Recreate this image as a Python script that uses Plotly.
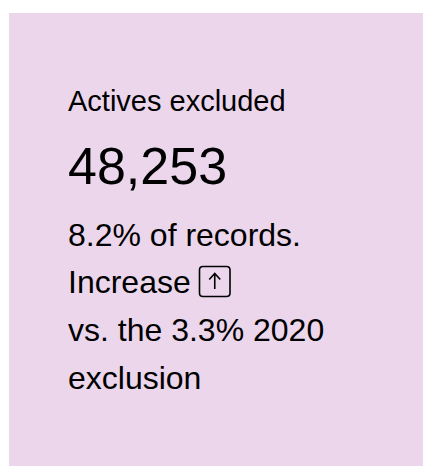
import plotly.graph_objects as go

# ---- data ----
kpi_label = "Actives excluded"
kpi_value = 48253
detail_lines = ["8.2% of records.", "Increase", "vs. the 3.3% 2020", "exclusion"]
trend_direction = "up"

W, H = 423, 466
FONT = "Liberation Sans, Arial, sans-serif"
CARD = "#ECD6EC"
INK = "#000000"

fig = go.Figure()
fig.update_layout(
    width=W, height=H,
    margin=dict(l=0, r=0, t=0, b=0),
    paper_bgcolor="white", plot_bgcolor="white",
    xaxis=dict(range=[0, W], visible=False, fixedrange=True),
    yaxis=dict(range=[H, 0], visible=False, fixedrange=True),
    showlegend=False,
)

# card background
fig.add_shape(type="rect", xref="x", yref="y", x0=9, x1=W + 2, y0=13, y1=H + 2,
              fillcolor=CARD, line=dict(width=0), layer="below")

def txt(t, y, size):
    fig.add_annotation(x=66, y=y, xref="x", yref="y", text=t, showarrow=False,
                       xanchor="left", yanchor="middle",
                       font=dict(family=FONT, size=size, color=INK))

# label, baseline ~111
txt(kpi_label, 101, 29)
# value, baseline ~184
txt(f"{kpi_value:,}", 166, 52)
# detail lines, baselines ~246, 293, 341, 388
baselines = [246, 293.3, 341, 388.5]
for line, b in zip(detail_lines, baselines):
    txt(line, b - 11, 32)

# trend icon (rounded box with arrow) beside "Increase"
x0, x1, y0, y1, r = 199.5, 230, 266.5, 296.5, 3.5
box = (f"M {x0+r},{y0} L {x1-r},{y0} Q {x1},{y0} {x1},{y0+r} L {x1},{y1-r} "
       f"Q {x1},{y1} {x1-r},{y1} L {x0+r},{y1} Q {x0},{y1} {x0},{y1-r} "
       f"L {x0},{y0+r} Q {x0},{y0} {x0+r},{y0} Z")
fig.add_shape(type="path", xref="x", yref="y", path=box,
              line=dict(color=INK, width=1.6), fillcolor="rgba(0,0,0,0)")
cx = (x0 + x1) / 2
if trend_direction == "up":
    arrow = f"M {cx},{289} L {cx},{273.5} M {cx-5.5},{279.5} L {cx},{273.5} L {cx+5.5},{279.5}"
    fig.add_shape(type="path", xref="x", yref="y", path=arrow,
                  line=dict(color=INK, width=1.6))

fig.write_html(
    "out.html",
    config={"displayModeBar": False, "staticPlot": True},
    post_script="document.body.style.margin='0';document.body.style.overflow='hidden';",
)
